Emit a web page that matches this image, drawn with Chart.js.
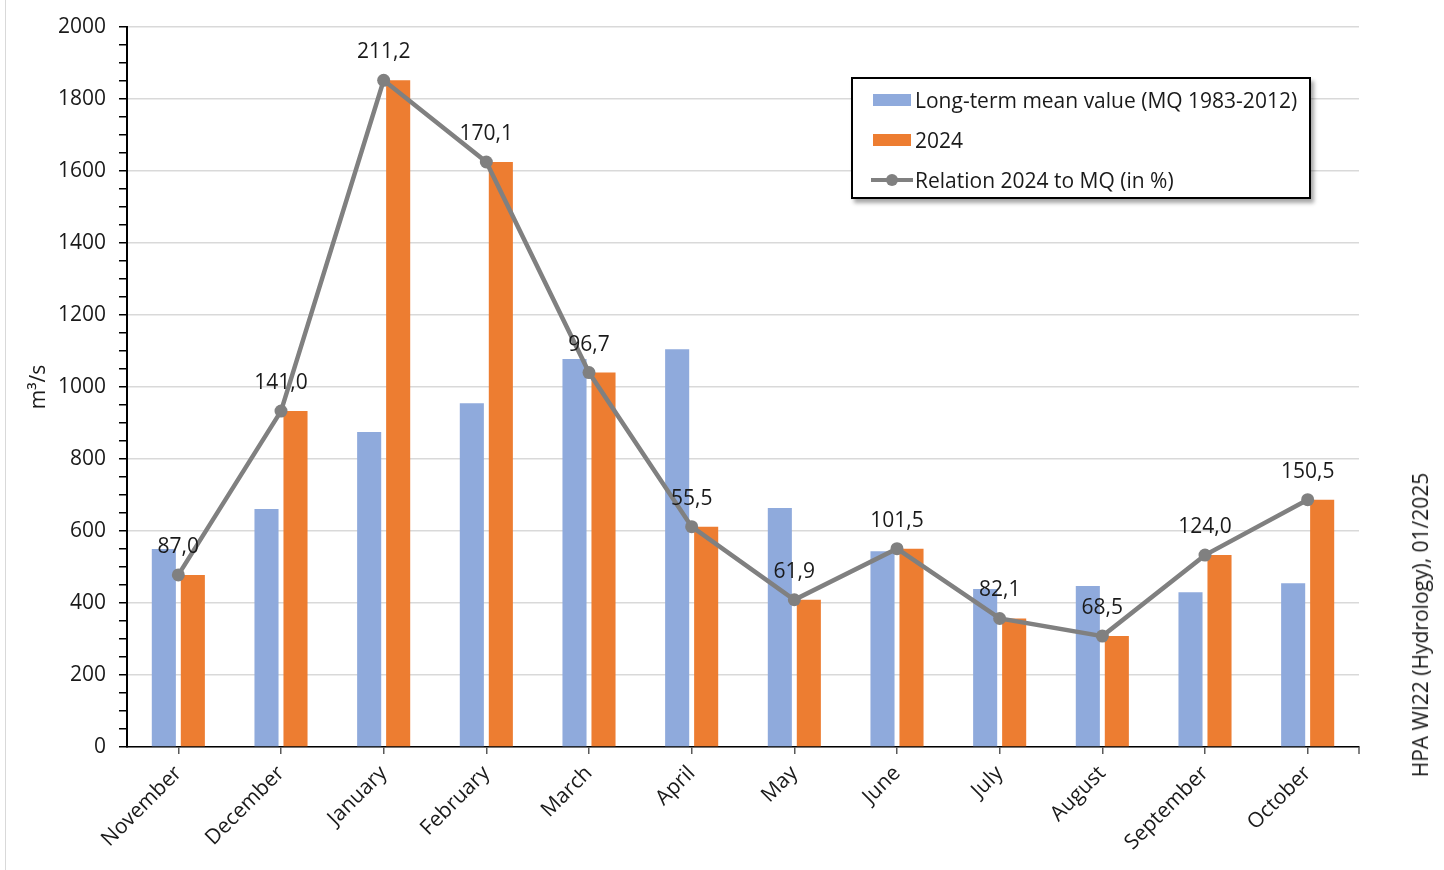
<!DOCTYPE html>
<html>
<head>
<meta charset="utf-8">
<script src="https://cdn.jsdelivr.net/npm/chart.js@4.4.1/dist/chart.umd.min.js"></script>
<style>
  html, body { margin: 0; padding: 0; background: #fff; }
  #wrap { position: relative; width: 1444px; height: 870px; font-family: "Open Sans", "Noto Sans", sans-serif; }
  #frame { position: absolute; left: 5px; top: 0; bottom: 0; border-left: 1px solid #d9d9d9; }
  #legend {
    position: absolute; left: 851px; top: 77px; width: 456px; height: 118px;
    border: 2px solid #000; background: #fff; box-shadow: 3px 4px 4px rgba(0,0,0,0.35);
  }
  .lg-row { position: absolute; left: 0; height: 30px; line-height: 30px; font-size: 21px; color: #1a1a1a; white-space: nowrap; }
  .lg-row .txt { position: absolute; left: 62px; top: 0; }
  .lg-box { position: absolute; left: 20px; top: 9px; width: 38px; height: 12px; }
  .lg-line { position: absolute; left: 18px; top: 13px; width: 42px; height: 4px; background: #808080; }
  .lg-dot { position: absolute; left: 33px; top: 9px; width: 12px; height: 12px; border-radius: 50%; background: #808080; }
  #source {
    position: absolute; left: 1420px; top: 625px; transform: translate(-50%, -50%) rotate(-90deg);
    font-size: 21px; color: #1a1a1a; white-space: nowrap;
  }
</style>
</head>
<body>
<div id="wrap">
  <div id="frame"></div>
  <canvas id="chart" width="1444" height="870"></canvas>
  <div id="legend"></div>
  <div id="source">HPA WI22 (Hydrology), 01/2025</div>
</div>
<script>
// Data
const MONTHS = ['November', 'December', 'January', 'February', 'March', 'April',
                'May', 'June', 'July', 'August', 'September', 'October'];
const MQ_VALUES = [550, 661, 875, 955, 1078, 1105, 664, 544, 439, 447, 430, 455];
const VALUES_2024 = [478, 933, 1852, 1625, 1040, 612, 409, 551, 357, 308, 533, 687];
const RELATION_PCT = [87.0, 141.0, 211.2, 170.1, 96.7, 55.5, 61.9, 101.5, 82.1, 68.5, 124.0, 150.5];
const Y_TICKS = [0, 200, 400, 600, 800, 1000, 1200, 1400, 1600, 1800, 2000];

const LABEL_MQ = 'Long-term mean value (MQ 1983-2012)';
const LABEL_2024 = '2024';
const LABEL_REL = 'Relation 2024 to MQ (in %)';

const FONT = '"Open Sans", "Noto Sans", sans-serif';
const FONT_SIZE = 21;
const BLUE = '#8faadc';
const ORANGE = '#ed7d31';
const GREY = '#808080';

/** Percent labels above the relation line points + closing tick at axis end */
const pctLabels = {
  id: 'pctLabels',
  afterDatasetsDraw(chart) {
    const meta = chart.getDatasetMeta(2);
    const ctx = chart.ctx;
    ctx.save();
    ctx.font = `${FONT_SIZE}px ${FONT}`;
    ctx.fillStyle = '#1a1a1a';
    ctx.textAlign = 'center';
    ctx.textBaseline = 'middle';
    meta.data.forEach((pt, i) => {
      ctx.fillText(RELATION_PCT[i].toFixed(1).replace('.', ','), pt.x, pt.y - 28);
    });
    // last tick mark at the right end of the category axis
    const { right, bottom } = chart.chartArea;
    ctx.strokeStyle = '#595959';
    ctx.lineWidth = 1.5;
    ctx.beginPath();
    ctx.moveTo(right, bottom);
    ctx.lineTo(right, bottom + 7);
    ctx.stroke();
    ctx.restore();
  }
};

const chart = new Chart(document.getElementById('chart'), {
  type: 'bar',
  data: {
    labels: MONTHS,
    datasets: [
      { label: LABEL_MQ, data: MQ_VALUES, backgroundColor: BLUE, order: 1,
        categoryPercentage: 0.565, barPercentage: 0.83 },
      { label: LABEL_2024, data: VALUES_2024, backgroundColor: ORANGE, order: 1,
        categoryPercentage: 0.565, barPercentage: 0.83 },
      { type: 'line', label: LABEL_REL, data: VALUES_2024, order: 0,
        borderColor: GREY, backgroundColor: GREY, borderWidth: 4.5, tension: 0,
        pointRadius: 6.5, pointBackgroundColor: GREY, pointBorderWidth: 0 }
    ]
  },
  options: {
    responsive: false,
    animation: false,
    layout: { padding: { top: 27, right: 85, left: 0, bottom: 0 } },
    plugins: { legend: { display: false }, tooltip: { enabled: false } },
    scales: {
      x: {
        offset: true,
        grid: { offset: false, drawOnChartArea: false, drawTicks: true, tickLength: 7, tickColor: '#595959', lineWidth: 1.5 },
        border: { display: true, color: '#000', width: 1.5 },
        ticks: { minRotation: 45, maxRotation: 45, padding: 7, color: '#1a1a1a', font: { family: FONT, size: FONT_SIZE } },
        afterFit: s => { s.height = 123; }
      },
      y: {
        min: 0, max: 2000,
        afterBuildTicks: s => {
          // majors every 200, minors every 50
          const t = [];
          for (let v = 0; v <= 2000; v += 50) t.push({ value: v });
          s.ticks = t;
        },
        grid: {
          color: c => (Y_TICKS.includes(c.tick.value) ? '#d9d9d9' : 'rgba(0,0,0,0)'),
          lineWidth: 1.5,
          tickColor: '#000',
          tickLength: 8
        },
        border: { display: true, color: '#000', width: 2 },
        ticks: {
          padding: 13, color: '#1a1a1a', font: { family: FONT, size: FONT_SIZE },
          autoSkip: false,
          callback: v => (Y_TICKS.includes(v) ? String(v) : '')
        },
        title: { display: true, text: 'm³/s', color: '#1a1a1a', font: { family: FONT, size: FONT_SIZE }, padding: { top: 26 } },
        afterFit: s => { s.width = 127; }
      }
    }
  },
  plugins: [pctLabels]
});

/** HTML legend built from the datasets */
function renderLegend(ch) {
  const box = document.getElementById('legend');
  box.innerHTML = ch.data.datasets.map((ds, i) => {
    const mark = ds.type === 'line'
      ? '<span class="lg-line"></span><span class="lg-dot"></span>'
      : `<span class="lg-box" style="background:${ds.backgroundColor}"></span>`;
    return `<div class="lg-row" style="top:${6 + i * 40}px">${mark}<span class="txt">${ds.label}</span></div>`;
  }).join('');
}
renderLegend(chart);
</script>
</body>
</html>
